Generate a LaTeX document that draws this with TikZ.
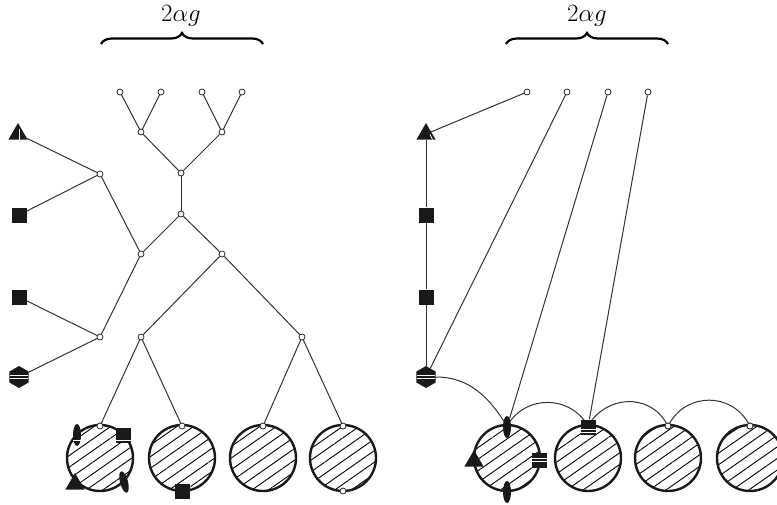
\documentclass[tikz,border=0pt]{standalone}
\usetikzlibrary{shapes.geometric,patterns.meta,decorations.pathreplacing,calc}
\begin{document}
\begin{tikzpicture}[x=1pt,y=1pt,
  conn/.style={draw=black!80,line width=1pt},
  vtx/.style={circle,draw=black!85,fill=white,line width=0.8pt,inner sep=0pt,minimum size=6pt},
  sqb/.style={rectangle,fill=black!90,inner sep=0pt,minimum size=15pt},
  trib/.style={regular polygon,regular polygon sides=3,fill=black!90,inner sep=0pt,minimum size=22pt},
  hexb/.style={regular polygon,regular polygon sides=6,shape border rotate=30,fill=black!90,inner sep=0pt,minimum size=22pt},
  lensb/.style={ellipse,fill=black!90,inner sep=0pt,minimum width=8pt,minimum height=22pt},
  disk/.style={circle,draw=black!90,line width=2.4pt,inner sep=0pt,minimum size=66pt,
    pattern={Lines[angle=35,distance=9.5pt,line width=0.9pt]}},
  brc/.style={decorate,decoration={brace,amplitude=11pt},line width=2.2pt},
  lbl/.style={font=\fontsize{24}{28}\selectfont},
  wl/.style={draw=white,line width=0.7pt}
]
\useasboundingbox (0,0) rectangle (777,-504);

% ---------- braces ----------
\draw[brc] (101,-44) -- (263,-44);
\node[lbl] (lab1) at (181,-16) {$2\alpha g$};
\draw[brc] (506,-44) -- (668,-44);
\node[lbl] (lab2) at (587,-16) {$2\alpha g$};

% ---------- left figure ----------
\node[disk] (d1) at (100,-458) {};
\node[disk] (d2) at (182,-458) {};
\node[disk] (d3) at (263,-458) {};
\node[disk] (d4) at (343,-458) {};

\node[vtx] (L1) at (120,-92) {};
\node[vtx] (L2) at (161,-92) {};
\node[vtx] (L3) at (202,-92) {};
\node[vtx] (L4) at (242,-92) {};
\node[vtx] (A) at (141,-132) {};
\node[vtx] (B) at (222,-132) {};
\node[vtx] (C) at (181,-173) {};
\node[vtx] (D) at (181,-214) {};
\node[vtx] (E) at (141,-254) {};
\node[vtx] (F) at (222,-254) {};
\node[vtx] (G) at (100,-174) {};
\node[vtx] (H) at (100,-337) {};
\node[vtx] (I) at (141,-337) {};
\node[vtx] (J) at (302,-337) {};
\node[vtx] (t1) at (100,-426) {};
\node[vtx] (t2) at (182,-426) {};
\node[vtx] (t3) at (263,-426) {};
\node[vtx] (t4) at (343,-426) {};
\node[vtx] (b4) at (343,-491) {};

\node[trib] (tri1) at (18,-134) {};
\node[sqb] (sq1) at (19,-215) {};
\node[sqb] (sq2) at (19,-297) {};
\node[hexb] (hex1) at (19,-377) {};
\draw[wl] ($(tri1.center)+(1.5,5)$) -- ($(tri1.center)+(1.5,-5.5)$);
\draw[wl] ($(hex1.center)+(-9,1.8)$) -- +(18,0);
\draw[wl] ($(hex1.center)+(-9,-1.8)$) -- +(18,0);

% decorations on first left disk
\node[lensb] (la) at (77,-435) {};
\draw[wl] ($(la.center)+(-4,-5)$) -- +(8,0);
\node[sqb] (sa) at (123,-435) {};
\draw[wl] ($(sa.center)+(-7.5,-5)$) -- +(15,0);
\node[trib] (ta) at (75,-484) {};
\node[lensb,rotate=15] (lb) at (124,-482) {};
\node[sqb] (sb) at (182,-491) {};

\foreach \u/\v in {L1/A,L2/A,L3/B,L4/B,A/C,B/C,C/D,D/E,D/F,E/G,E/H,F/I,F/J,I/t1,I/t2,J/t3,J/t4,G/tri1,G/sq1,H/sq2,H/hex1}
  \draw[conn] (\u) -- (\v);

% ---------- right figure ----------
\node[disk] (e1) at (507,-458) {};
\node[disk] (e2) at (588,-458) {};
\node[disk] (e3) at (668,-458) {};
\node[disk] (e4) at (750,-458) {};

\coordinate (rt1) at (507,-426);
\coordinate (rt2) at (588,-426);
\node[vtx] (rt3) at (668,-426) {};
\node[vtx] (rt4) at (750,-426) {};

\node[trib] (tri2) at (426,-134) {};
\node[sqb] (sq3) at (426,-215) {};
\node[sqb] (sq4) at (426,-297) {};
\node[hexb] (hex2) at (426,-377) {};
\draw[wl] ($(tri2.center)+(4,-0.5)$) -- ($(tri2.center)+(6.5,-5.5)$);
\draw[wl] ($(hex2.center)+(-9,1.8)$) -- +(18,0);
\draw[wl] ($(hex2.center)+(-9,-1.8)$) -- +(18,0);

\draw[conn] (hex2.east) to[out=0,in=122] (rt1);
\draw[conn] (rt1) to[out=60,in=120,looseness=1.15] (rt2);
\draw[conn] (rt2) to[out=60,in=120,looseness=1.15] (rt3);
\draw[conn] (rt3) to[out=60,in=120,looseness=1.15] (rt4);

\node[lensb] (lt) at (507,-427) {};
\node[lensb] (lbt) at (507,-492) {};
\node[trib] (tr) at (474,-461) {};
\node[sqb] (sr) at (539,-460) {};
\draw[wl] ($(sr.center)+(-7.5,1.5)$) -- +(15,0);
\draw[wl] ($(sr.center)+(-7.5,-1.5)$) -- +(15,0);
\node[sqb] (st) at (588,-427) {};
\draw[wl] ($(st.center)+(-7.5,-2.5)$) -- +(15,0);
\draw[wl] ($(st.center)+(-7.5,-5)$) -- +(15,0);
\node[vtx] at (rt3) {};
\node[vtx] at (rt4) {};

\node[vtx] (R1) at (527,-92) {};
\node[vtx] (R2) at (567,-92) {};
\node[vtx] (R3) at (608,-92) {};
\node[vtx] (R4) at (648,-92) {};

\draw[conn] (R1) -- (tri2);
\draw[conn] (R2) -- (hex2);
\draw[conn] (R3) -- (lt);
\draw[conn] (R4) -- (st);
\draw[conn] (tri2) -- (sq3) -- (sq4) -- (hex2);
\end{tikzpicture}
\end{document}
